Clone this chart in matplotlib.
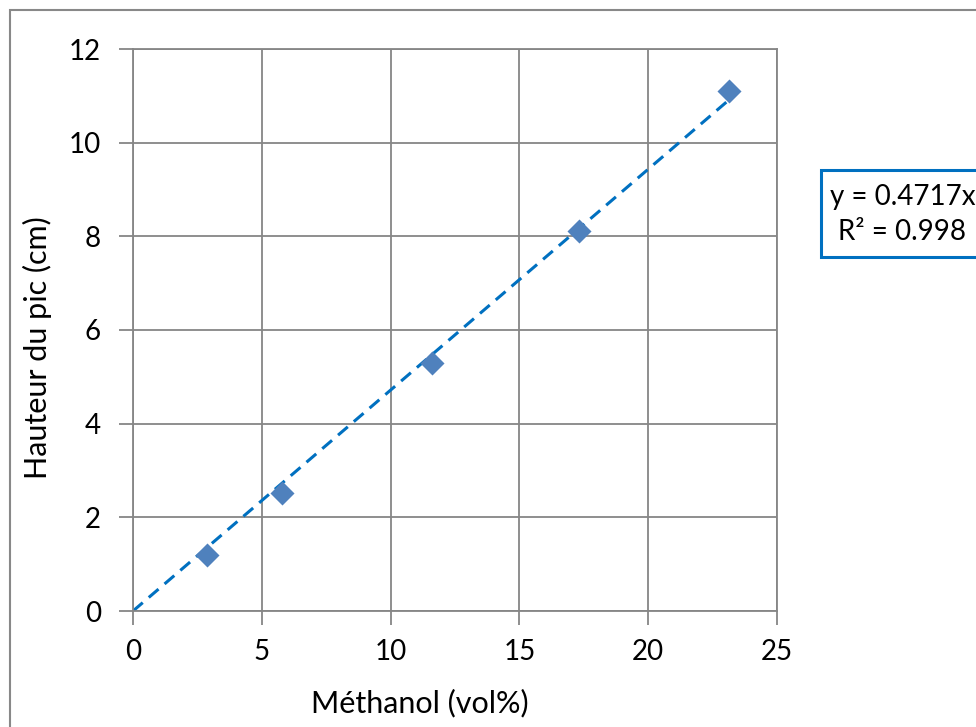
import matplotlib
matplotlib.use("Agg")
import matplotlib.pyplot as plt
from matplotlib.patches import Rectangle
import numpy as np

plt.rcParams['font.family'] = ['Lato', 'DejaVu Sans']

methanol = [2.88, 5.79, 11.59, 17.30, 23.13]
hauteur = [1.20, 2.52, 5.30, 8.11, 11.10]
slope = 0.4717
r2 = 0.998
xticks = [0, 5, 10, 15, 20, 25]
yticks = [0, 2, 4, 6, 8, 10, 12]

W, H = 976, 727
fig = plt.figure(figsize=(W/100, H/100), dpi=100)
ax = fig.add_axes([133/W, 1-611/H, (777-133)/W, (611-49)/H])

grid_c = '#868686'
ax.set_xlim(0, 25)
ax.set_ylim(0, 12)
ax.set_xticks(xticks)
ax.set_yticks(yticks)
ax.grid(True, color=grid_c, linewidth=1.3)
ax.set_axisbelow(True)
for s in ax.spines.values():
    s.set_color(grid_c)
    s.set_linewidth(1.3)
ax.tick_params(axis='both', length=10, width=1.3, color=grid_c, labelsize=20)
ax.tick_params(axis='y', pad=13)
ax.tick_params(axis='x', pad=10)

xf = np.array([0, max(methanol)])
ax.plot(xf, slope * xf, linestyle=(0, (4.2, 2.6)), color='#0070C0', linewidth=2.2, zorder=2)
ax.scatter(methanol, hauteur, marker='D', s=150, color='#4F81BD', zorder=3, linewidths=0)

ax.set_xlabel('Méthanol (vol%)', fontsize=22, va='center', ha='center')
ax.xaxis.set_label_coords((420-133)/644, (611-703)/562)
ax.set_ylabel('Hauteur du pic (cm)', fontsize=22, va='center', ha='center')
ax.yaxis.set_label_coords((37-133)/644, (611-348)/562)

# outer chart frame
fig.patches.append(Rectangle((10/W, -0.1), 1.1, 1 - 10/H + 0.1, transform=fig.transFigure,
                             fill=False, edgecolor='#888888', linewidth=1.5))
# equation box
fig.patches.append(Rectangle((821/W, 1-257/H), 0.2, (257-170)/H, transform=fig.transFigure,
                             fill=True, facecolor='white', edgecolor='#0070C0', linewidth=2.2))
fig.text(830/W, 1-197/H, f'y = {slope}x', fontsize=20, va='center', ha='left')
fig.text(838/W, 1-232/H, f'R² = {r2}', fontsize=20, va='center', ha='left')

fig.savefig('out.png', dpi=100)
